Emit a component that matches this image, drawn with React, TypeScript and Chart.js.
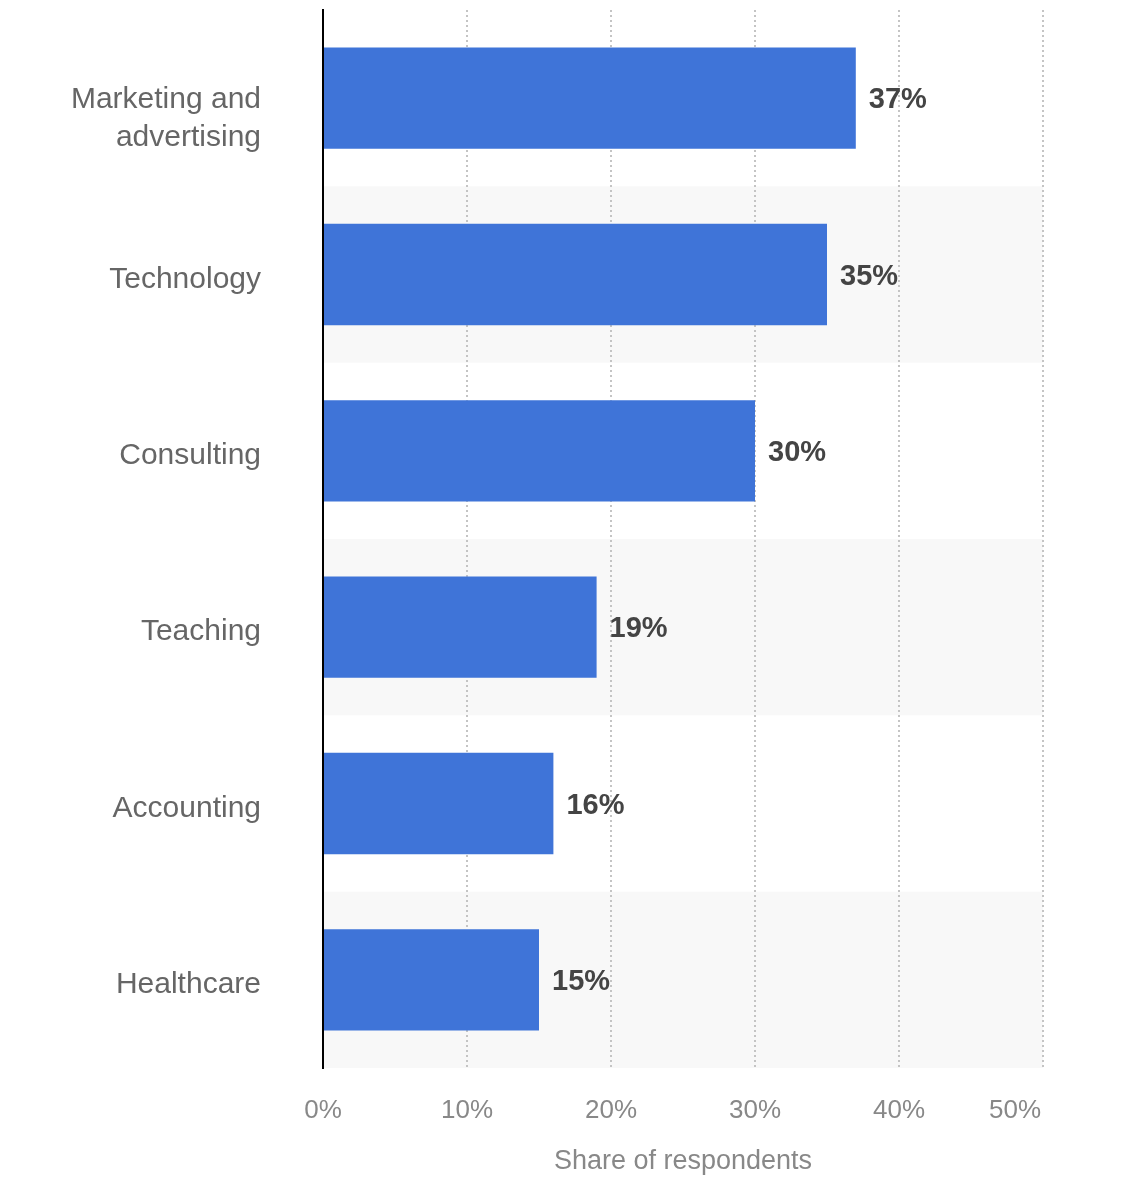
import React, { useEffect, useRef } from "react";
import { Chart, registerables } from "chart.js";

Chart.register(...registerables);

const categories: (string | string[])[] = [
  ["Marketing and", "advertising"],
  "Technology",
  "Consulting",
  "Teaching",
  "Accounting",
  "Healthcare",
];
const shares: number[] = [37, 35, 30, 19, 16, 15];
const xTicks: number[] = [0, 10, 20, 30, 40, 50];
const axisTitle = "Share of respondents";

const FONT = "'Liberation Sans', Arial, Helvetica, sans-serif";

export default function App() {
  const ref = useRef<HTMLCanvasElement | null>(null);

  useEffect(() => {
    document.body.style.margin = "0";
    if (!ref.current) return;

    const bandPlugin = {
      id: "bands",
      beforeDraw(chart: any) {
        const { ctx, chartArea, scales } = chart;
        const y = scales.y;
        const step = y.getPixelForValue(1) - y.getPixelForValue(0);
        ctx.save();
        ctx.fillStyle = "#f8f8f8";
        categories.forEach((_, i) => {
          if (i % 2 === 1) {
            const c = y.getPixelForValue(i);
            ctx.fillRect(chartArea.left, c - step / 2, chartArea.right - chartArea.left, step);
          }
        });
        ctx.restore();
      },
    };

    const labelPlugin = {
      id: "valueLabels",
      afterDatasetsDraw(chart: any) {
        const { ctx } = chart;
        const meta = chart.getDatasetMeta(0);
        ctx.save();
        ctx.font = `bold 29px ${FONT}`;
        ctx.fillStyle = "#444444";
        ctx.textAlign = "left";
        ctx.textBaseline = "middle";
        meta.data.forEach((bar: any, i: number) => {
          ctx.fillText(`${shares[i]}%`, bar.x + 13, bar.y + 2);
        });
        ctx.restore();
      },
      afterDraw(chart: any) {
        const { ctx, scales, chartArea } = chart;
        const x = scales.x;
        const y = scales.y;
        ctx.save();
        ctx.font = `26px ${FONT}`;
        ctx.fillStyle = "#888888";
        ctx.textAlign = "center";
        ctx.textBaseline = "middle";
        xTicks.forEach((v, i) => {
          let px = x.getPixelForValue(v);
          if (i === xTicks.length - 1) px -= 28;
          ctx.fillText(`${v}%`, px, x.top + 43);
        });

        ctx.font = `30px ${FONT}`;
        ctx.fillStyle = "#666666";
        ctx.textAlign = "right";
        categories.forEach((lab, i) => {
          const c = y.getPixelForValue(i);
          const lx = chartArea.left - 62;
          if (Array.isArray(lab)) {
            lab.forEach((line, k) => ctx.fillText(line, lx, c + 2 + k * 38));
          } else {
            ctx.fillText(lab, lx, c + 5);
          }
        });
        ctx.restore();
      },
    };

    const chart = new Chart(ref.current, {
      type: "bar",
      data: {
        labels: categories,
        datasets: [
          {
            data: shares,
            backgroundColor: "#3f74d8",
            borderWidth: 0,
            barPercentage: 0.575,
            categoryPercentage: 1,
          },
        ],
      },
      options: {
        indexAxis: "y",
        responsive: true,
        maintainAspectRatio: false,
        animation: false,
        layout: { padding: { top: 10, right: 96, left: 0, bottom: 0 } },
        plugins: {
          legend: { display: false },
          tooltip: { enabled: false },
        },
        scales: {
          x: {
            min: 0,
            max: 50,
            ticks: { stepSize: 10, display: false },
            grid: { color: "#c4c4c4", lineWidth: 2, drawTicks: false },
            border: { display: false, dash: [2, 3] },
            title: {
              display: true,
              text: axisTitle,
              color: "#888888",
              font: { family: FONT, size: 27 },
              padding: { top: 0, bottom: 22 },
            },
            afterFit(scale: any) {
              scale.height = 132;
              scale.paddingLeft = 0;
              scale.paddingRight = 0;
            },
          },
          y: {
            ticks: { display: false },
            grid: { display: false, drawTicks: false },
            border: { display: true, color: "#000000", width: 2 },
            afterFit(scale: any) {
              scale.width = 323;
              scale.paddingTop = 0;
              scale.paddingBottom = 0;
            },
          },
        },
      },
      plugins: [bandPlugin, labelPlugin],
    } as any);

    return () => chart.destroy();
  }, []);

  return (
    <div style={{ width: 1139, height: 1200, position: "relative" }}>
      <canvas ref={ref} />
    </div>
  );
}
